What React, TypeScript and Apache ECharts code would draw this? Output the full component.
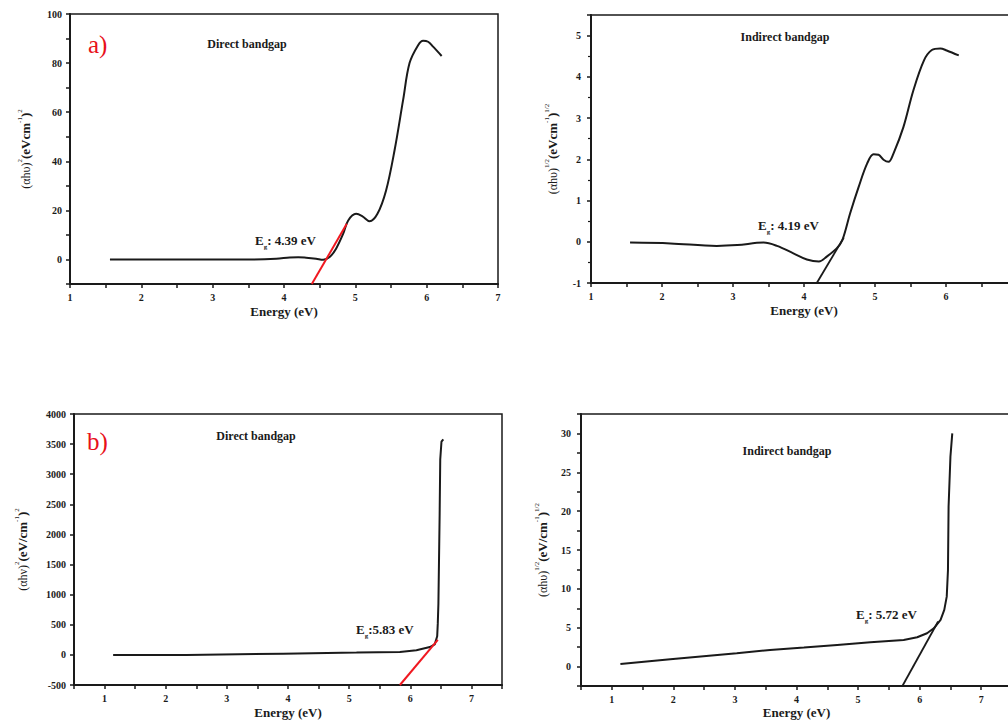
import React, { useEffect, useRef } from "react";
import * as echarts from "echarts";

// Panel a) direct bandgap
const aX = [1.56, 2.5, 3.5, 3.89, 4.08, 4.2, 4.31, 4.45, 4.55, 4.64, 4.73, 4.83, 4.9, 5.01, 5.1, 5.2, 5.31, 5.43, 5.55, 5.67, 5.76, 5.88, 5.95, 6.02, 6.09, 6.21];
const aY = [0, 0, 0, 0.3, 0.8, 0.9, 0.7, 0.3, -0.1, 1, 4.4, 10.5, 15.9, 18.6, 17.6, 15.6, 18.6, 28, 44.5, 65, 80, 87.3, 89.1, 88.7, 86.7, 82.9];
const aTanX = [4.39, 4.88];
const aTanY = [-10, 14.5];

// Panel a) indirect bandgap
const a2X = [1.55, 2.12, 2.77, 3.06, 3.43, 3.62, 3.85, 4.04, 4.21, 4.32, 4.46, 4.54, 4.65, 4.77, 4.89, 4.98, 5.05, 5.12, 5.19, 5.26, 5.4, 5.54, 5.69, 5.8, 5.92, 6.01, 6.18];
const a2Y = [-0.02, -0.04, -0.1, -0.08, -0.02, -0.1, -0.28, -0.43, -0.48, -0.36, -0.16, 0.04, 0.69, 1.33, 1.9, 2.12, 2.11, 1.99, 1.94, 2.14, 2.78, 3.67, 4.4, 4.65, 4.69, 4.64, 4.52];
const a2TanX = [4.18, 4.56];
const a2TanY = [-1, 0.1];

// Panel b) direct bandgap
const bX = [1.14, 2.34, 3.92, 5.12, 5.83, 6.1, 6.32, 6.4, 6.44, 6.45, 6.46, 6.48, 6.49, 6.51, 6.54];
const bY = [0, 0, 20, 38, 49, 76, 130, 174, 310, 527, 853, 2320, 3245, 3540, 3580];
const bTanX = [5.83, 6.45];
const bTanY = [-500, 250];

// Panel b) indirect bandgap
const b2X = [1.14, 1.95, 3.03, 3.57, 4.12, 4.66, 5.2, 5.74, 5.96, 6.12, 6.23, 6.34, 6.4, 6.44, 6.46, 6.47, 6.5, 6.53];
const b2Y = [0.34, 0.94, 1.71, 2.14, 2.44, 2.79, 3.13, 3.43, 3.77, 4.29, 4.93, 6.0, 7.3, 9.0, 12.4, 20.6, 27, 30];
const b2TanX = [5.72, 6.3];
const b2TanY = [-2.5, 5.8];

const zip = (xs: number[], ys: number[]) => xs.map((x, i) => [x, ys[i]]);

const SERIF = "'Liberation Serif', 'DejaVu Serif', serif";
const INK = "#1a1a1a";

const tickLabel = (show: (v: number) => boolean) => ({
  fontFamily: SERIF,
  fontWeight: "bold" as const,
  fontSize: 10,
  color: INK,
  formatter: (v: number) => (show(v) ? String(Math.round(v * 1000) / 1000) : ""),
});

const isMult = (v: number, m: number) => Math.abs(v / m - Math.round(v / m)) < 1e-6;

const axisBase = {
  axisLine: { show: true, onZero: false, lineStyle: { color: INK, width: 2 } },
  axisTick: { show: true, length: 4, lineStyle: { color: INK, width: 1.5 } },
  splitLine: { show: false },
};

const supRich = {
  n: { fontFamily: SERIF, fontSize: 12, color: INK, lineHeight: 16, verticalAlign: "bottom" },
  b: { fontFamily: SERIF, fontSize: 13, fontWeight: "bold", color: INK, lineHeight: 16, verticalAlign: "bottom" },
  s: { fontFamily: SERIF, fontSize: 7, color: INK, lineHeight: 16, verticalAlign: "top" },
};

const xName = (gap: number) => ({
  name: "Energy (eV)",
  nameLocation: "middle" as const,
  nameGap: gap,
  nameTextStyle: { fontFamily: SERIF, fontWeight: "bold" as const, fontSize: 13, color: INK },
});

const yName = (name: string, gap: number) => ({
  name,
  nameLocation: "middle" as const,
  nameGap: gap,
  nameRotate: 90,
  nameTextStyle: { rich: supRich },
});

const egText = (x: number, y: number, val: string) => ({
  type: "text",
  x,
  y,
  style: {
    text: `{e|E}{g|g}{t|${val}}`,
    verticalAlign: "middle",
    rich: {
      e: { fontFamily: SERIF, fontSize: 13, fontWeight: "bold", fill: INK, lineHeight: 16, verticalAlign: "top" },
      g: { fontFamily: SERIF, fontSize: 7, fontWeight: "bold", fill: INK, lineHeight: 16, verticalAlign: "bottom" },
      t: { fontFamily: SERIF, fontSize: 13, fontWeight: "bold", fill: INK, lineHeight: 16, verticalAlign: "top" },
    },
  },
});

const titleText = (cx: number, y: number, text: string) => ({
  type: "text",
  x: cx,
  y,
  style: {
    text,
    align: "center",
    verticalAlign: "middle",
    fontFamily: SERIF,
    fontWeight: "bold",
    fontSize: 12,
    fill: INK,
  },
});

const panelLabel = (x: number, y: number, text: string) => ({
  type: "text",
  x,
  y,
  style: {
    text,
    verticalAlign: "middle",
    fontFamily: SERIF,
    fontSize: 25,
    fill: "#e8101a",
  },
});

export default function App() {
  const ref = useRef<HTMLDivElement>(null);
  useEffect(() => {
    if (!ref.current) return;
    const chart = echarts.init(ref.current, undefined, { renderer: "svg" });
    const gridStyle = {
      show: true,
      borderColor: INK,
      borderWidth: 1.5,
      backgroundColor: "transparent",
      outerBoundsMode: "none",
      containLabel: false,
    };
    const option: any = {
      animation: false,
      backgroundColor: "#fff",
      grid: [
        { left: 70, top: 14, width: 428, height: 270, ...gridStyle },
        { left: 591, top: 15, width: 426, height: 268, ...gridStyle },
        { left: 74, top: 414, width: 428, height: 271, ...gridStyle },
        { left: 581, top: 414, width: 431, height: 272, ...gridStyle },
      ],
      xAxis: [
        {
          type: "value", gridIndex: 0, min: 1, max: 7, interval: 1, ...axisBase,
          minorTick: { show: true, splitNumber: 2, length: 4, lineStyle: { color: INK, width: 1.5 } },
          axisLabel: { ...tickLabel(() => true), margin: 8 },
          ...xName(21),
        },
        {
          type: "value", gridIndex: 1, min: 1, max: 7, interval: 1, ...axisBase,
          minorTick: { show: true, splitNumber: 2, length: 4, lineStyle: { color: INK, width: 1.5 } },
          axisLabel: { ...tickLabel(() => true), margin: 8 },
          ...xName(21),
        },
        {
          type: "value", gridIndex: 2, min: 0.5, max: 7.5, interval: 0.5, ...axisBase,
          axisLabel: { ...tickLabel((v) => isMult(v, 1)), margin: 8 },
          ...xName(21),
        },
        {
          type: "value", gridIndex: 3, min: 0.5, max: 7.5, interval: 0.5, ...axisBase,
          axisLabel: { ...tickLabel((v) => isMult(v, 1)), margin: 8 },
          ...xName(20),
        },
      ],
      yAxis: [
        {
          type: "value", gridIndex: 0, min: -10, max: 100, interval: 10, ...axisBase,
          axisLabel: { ...tickLabel((v) => v >= 0 && isMult(v, 20)), margin: 8 },
          ...yName("{n|(αhυ)}{s|2}{b|(eVcm}{s|-1}{b|)}{s|2}", 38),
        },
        {
          type: "value", gridIndex: 1, min: -1, max: 5.5, interval: 1, ...axisBase,
          minorTick: { show: true, splitNumber: 2, length: 3, lineStyle: { color: INK, width: 1.2 } },
          axisLabel: { ...tickLabel((v) => isMult(v, 1)), margin: 10 },
          ...yName("{n|(αhυ)}{s|1/2}{b|(eVcm}{s|-1}{b|)}{s|1/2}", 32),
        },
        {
          type: "value", gridIndex: 2, min: -500, max: 4000, interval: 500, ...axisBase,
          axisLabel: { ...tickLabel(() => true), margin: 8 },
          ...yName("{n|(αhν)}{s|2}{b|(eV/cm}{s|-1}{b|)}{s|2}", 45),
        },
        {
          type: "value", gridIndex: 3, min: -2.5, max: 32.5, interval: 2.5, ...axisBase,
          axisLabel: { ...tickLabel((v) => isMult(v, 5)), margin: 10 },
          ...yName("{n|(αhυ)}{s|1/2}{b|(eV/cm}{s|-1}{b|)}{s|1/2}", 32),
        },
      ],
      series: [
        { type: "line", xAxisIndex: 0, yAxisIndex: 0, data: zip(aX, aY), smooth: 0.35, showSymbol: false, lineStyle: { color: INK, width: 2 } },
        { type: "line", xAxisIndex: 0, yAxisIndex: 0, data: zip(aTanX, aTanY), showSymbol: false, lineStyle: { color: "#f01820", width: 2 } },
        { type: "line", xAxisIndex: 1, yAxisIndex: 1, data: zip(a2X, a2Y), smooth: 0.35, showSymbol: false, lineStyle: { color: INK, width: 2 } },
        { type: "line", xAxisIndex: 1, yAxisIndex: 1, data: zip(a2TanX, a2TanY), showSymbol: false, lineStyle: { color: INK, width: 1.8 } },
        { type: "line", xAxisIndex: 2, yAxisIndex: 2, data: zip(bX, bY), showSymbol: false, lineStyle: { color: INK, width: 2 } },
        { type: "line", xAxisIndex: 2, yAxisIndex: 2, data: zip(bTanX, bTanY), showSymbol: false, lineStyle: { color: "#f01820", width: 2 } },
        { type: "line", xAxisIndex: 3, yAxisIndex: 3, data: zip(b2X, b2Y), showSymbol: false, lineStyle: { color: INK, width: 2 } },
        { type: "line", xAxisIndex: 3, yAxisIndex: 3, data: zip(b2TanX, b2TanY), showSymbol: false, lineStyle: { color: INK, width: 1.8 } },
      ],
      graphic: [
        panelLabel(88, 44, "a)"),
        panelLabel(87, 441, "b)"),
        titleText(247, 44, "Direct bandgap"),
        titleText(785, 37, "Indirect bandgap"),
        titleText(256, 436, "Direct bandgap"),
        titleText(787, 451, "Indirect bandgap"),
        egText(255, 242, ": 4.39 eV"),
        egText(758, 227, ": 4.19 eV"),
        egText(356, 631, ":5.83 eV"),
        egText(856, 616, ": 5.72 eV"),
      ],
    };
    chart.setOption(option);
    return () => chart.dispose();
  }, []);
  return (
    <div
      ref={ref}
      style={{ position: "fixed", left: 0, top: 0, width: 1008, height: 722, background: "#fff", overflow: "hidden" }}
    />
  );
}
